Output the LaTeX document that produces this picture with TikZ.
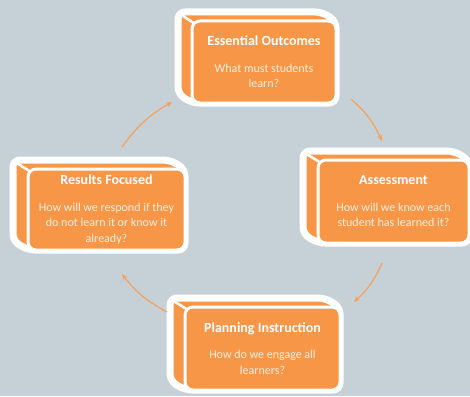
\documentclass[tikz,border=0pt]{standalone}
\usepackage{fontspec}
\setmainfont{Carlito}
\usepackage{xcolor}
\usetikzlibrary{arrows.meta}

\definecolor{boxorange}{RGB}{247,150,70}
\definecolor{bgslate}{RGB}{198,209,215}
\definecolor{qtext}{RGB}{255,240,228}

\tikzset{
  block/.style={fill=boxorange, draw=white, line width=7pt, rounded corners=7pt, line join=round},
  face/.style={fill=boxorange, draw=white, line width=3pt, rounded corners=8pt, inner sep=0pt, outer sep=0pt,
    align=center, text=qtext, font=\fontsize{12}{15.5}\selectfont},
  blockedge/.style={draw=white, line width=2.5pt, line cap=round},
  cyclearrow/.style={draw=boxorange!90!white, line width=1.2pt, -{Stealth[length=6pt,width=5pt]}},
}
\newcommand\boxtitle[1]{{\color{white}\fontsize{14}{15}\selectfont\bfseries #1}}

\begin{document}
\begin{tikzpicture}[x=1pt,y=1pt,yscale=-1]
\fill[bgslate] (0,0) rectangle (470,396);
\useasboundingbox (0,0) rectangle (470,396);

% Essential Outcomes block
\draw[block] (178,12) -- (322,12) -- (336,21) -- (336,103) -- (192,103) -- (178,94) -- cycle;
\draw[blockedge] (180,14) -- (195,24);
\node[face, minimum width=144pt, minimum height=82pt] (outcomes) at (264,62)
  {\boxtitle{Essential Outcomes}\\[11pt] What must students\\learn?};

% Assessment block
\draw[block] (303,151) -- (454,151) -- (469,160) -- (469,243) -- (318,243) -- (303,234) -- cycle;
\draw[blockedge] (305,153) -- (321,163);
\node[face, minimum width=151pt, minimum height=83pt] (assessment) at (393.5,201.5)
  {\boxtitle{Assessment}\\[11pt] How will we know each\\student has learned it?};

% Results Focused block
\draw[block] (13,160) -- (170,160) -- (185,169) -- (185,250) -- (28,250) -- (13,241) -- cycle;
\draw[blockedge] (15,162) -- (31,172);
\node[face, minimum width=157pt, minimum height=81pt] (results) at (106.5,209.5)
  {\boxtitle{Results Focused}\\[11pt] How will we respond if they\\do not learn it or know it\\already?};

% Planning Instruction block
\draw[block] (170,298) -- (325,298) -- (340,307) -- (340,390) -- (185,390) -- (170,381) -- cycle;
\draw[blockedge] (172,300) -- (188,310);
\node[face, minimum width=155pt, minimum height=83pt] (planning) at (262.5,348.5)
  {\boxtitle{Planning Instruction}\\[11pt] How do we engage all\\learners?};

% cycle arrows
\draw[cyclearrow] ([xshift=15.5pt,yshift=-22pt]results.north) to[bend right=12] ([xshift=-20pt,yshift=-1pt]outcomes.south west);
\draw[cyclearrow] ([xshift=15pt,yshift=-4pt]outcomes.south east) to[bend right=12] ([xshift=-11.5pt,yshift=-19pt]assessment.north);
\draw[cyclearrow] ([xshift=-11.5pt,yshift=20pt]assessment.south) to[bend right=12] ([xshift=14pt,yshift=-5pt]planning.north east);
\draw[cyclearrow] ([xshift=-18pt,yshift=5pt]planning.north west) to[bend right=12] ([xshift=15.5pt,yshift=24pt]results.south);

\end{tikzpicture}
\end{document}
